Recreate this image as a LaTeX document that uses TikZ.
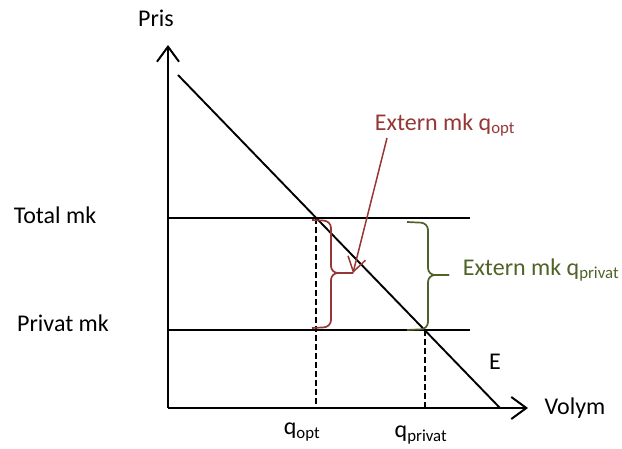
\documentclass[tikz,border=0pt]{standalone}
\usepackage{fontspec}
\setmainfont{Carlito}
\usetikzlibrary{arrows.meta}
\definecolor{mkred}{HTML}{953735}
\definecolor{mkgreen}{HTML}{4F6228}

\begin{document}
\begin{tikzpicture}[x=1pt,y=1pt,font=\fontsize{24}{28}\selectfont,
 ax/.style={line width=2.4pt,-{Straight Barb[length=15pt,width=22pt,line width=2pt]}},
 ln/.style={line width=1.9pt},
 dsh/.style={line width=1.8pt,dash pattern=on 6pt off 3pt},
 brc/.style={line width=1.7pt,rounded corners=7pt},
 lbl/.style={inner sep=0pt}]
\useasboundingbox (0,0) rectangle (622,448);
% axes
\coordinate (o) at (168,40);
\coordinate (ytop) at (168,403);
\coordinate (xend) at (528,40);
\draw[ax] (o) -- (ytop);
\draw[ax] (o) -- (xend);
\node[lbl] (pris) at (156,430) {Pris};
\node[lbl] (volym) at (575,40) {Volym};
% demand and cost lines
\coordinate (d1) at (178,373);
\coordinate (d2) at (500,40);
\draw[ln] (d1) -- (d2);
\node[lbl] (e) at (495,86) {E};
\coordinate (t0) at (168,230);
\coordinate (t1) at (470,230);
\coordinate (p0) at (168,118);
\coordinate (p1) at (470,118);
\draw[ln] (t0) -- (t1);
\draw[ln] (p0) -- (p1);
\node[lbl] (tmk) at (55,233) {Total mk};
\node[lbl] (pmk) at (63,125) {Privat mk};
% quantities
\coordinate (qo) at (intersection of d1--d2 and t0--t1);
\coordinate (qp) at (intersection of d1--d2 and p0--p1);
\draw[dsh] (qo) -- (qo |- o);
\draw[dsh] (qp) -- (qp |- o);
\node[lbl] (qopt) at (302,16) {q\textsubscript{opt}};
\node[lbl] (qpriv) at (421,13) {q\textsubscript{privat}};
% externalities
\coordinate (rtip) at (353,175);
\coordinate (gtip) at (449,173);
\draw[brc,mkred] (312,228) -- (331,227) -- (331,175) -- (rtip);
\draw[brc,mkred] (rtip) -- (331,175) -- (331,121) -- (312,120);
\draw[brc,mkgreen] (407,226) -- (428,225) -- (428,173) -- (gtip);
\draw[brc,mkgreen] (gtip) -- (428,173) -- (428,119) -- (407,118);
\node[lbl,mkred] (exo) at (445,323) {Extern mk q\textsubscript{opt}};
\node[lbl,mkgreen] (exp) at (541,178) {Extern mk q\textsubscript{privat}};
\coordinate (rfrom) at (387,310);
\draw[mkred,line width=1.5pt,-{Straight Barb[length=14pt,width=18pt]}] (rfrom) -- (rtip);
\end{tikzpicture}
\end{document}
